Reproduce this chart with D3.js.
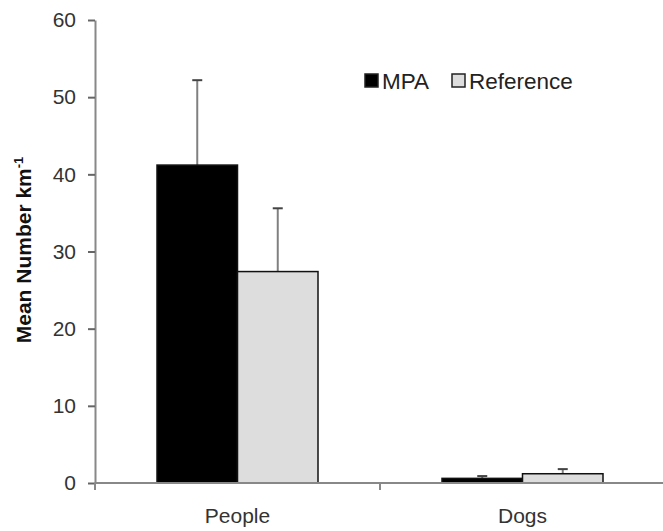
<!DOCTYPE html>
<html><head><meta charset="utf-8">
<script src="https://cdn.jsdelivr.net/npm/d3@7"></script>
<style>body{margin:0;background:#fff}</style>
</head><body>
<svg id="c" width="663" height="531"></svg>
<script>
const categories = ["People", "Dogs"];
const seriesNames = ["MPA", "Reference"];
const mpaValues = [41.2, 0.6];
const mpaErrors = [11.0, 0.3];
const refValues = [27.4, 1.2];
const refErrors = [8.2, 0.6];
const yTicks = [0, 10, 20, 30, 40, 50, 60];

const colors = {MPA: "#000", Reference: "#dddddd"};
const svg = d3.select("#c");
const fontFam = "'Liberation Sans', Arial, sans-serif";
const x0 = d3.scaleBand().domain(categories).range([95, 665]).paddingInner(0).paddingOuter(0);
const x1 = d3.scaleBand().domain(seriesNames).range([62, 285 - 62]);
const y = d3.scaleLinear().domain([0, 60]).range([483, 20]);

const data = categories.map((c, i) => ({
  cat: c,
  vals: [
    {s: "MPA", v: mpaValues[i], e: mpaErrors[i]},
    {s: "Reference", v: refValues[i], e: refErrors[i]}
  ]
}));

// error bars (behind bars)
const g = svg.append("g");
data.forEach(d => {
  d.vals.forEach(v => {
    const cx = x0(d.cat) + x1(v.s) + x1.bandwidth() / 2;
    g.append("line").attr("x1", cx).attr("x2", cx).attr("y1", y(v.v)).attr("y2", y(v.v + v.e))
      .attr("stroke", "#808080").attr("stroke-width", 2);
    g.append("line").attr("x1", cx - 5).attr("x2", cx + 5).attr("y1", y(v.v + v.e)).attr("y2", y(v.v + v.e))
      .attr("stroke", "#444").attr("stroke-width", 2);
  });
});
// bars
data.forEach(d => {
  d.vals.forEach(v => {
    g.append("rect")
      .attr("x", x0(d.cat) + x1(v.s))
      .attr("y", y(v.v))
      .attr("width", x1.bandwidth())
      .attr("height", y(0) - y(v.v))
      .attr("fill", colors[v.s])
      .attr("stroke", "#111").attr("stroke-width", 1.5);
  });
});

// y axis
const yAxis = d3.axisLeft(y).tickValues(yTicks).tickSize(7).tickPadding(12).tickSizeOuter(0);
const ya = svg.append("g").attr("transform", "translate(95,0)").call(yAxis);
ya.select(".domain").attr("stroke", "#888").attr("stroke-width", 2);
ya.selectAll(".tick line").attr("stroke", "#666").attr("stroke-width", 2);
ya.selectAll(".tick text").attr("font-family", fontFam).attr("font-size", 21).attr("fill", "#333");

// x axis
const xa = svg.append("g").attr("transform", "translate(0,483)");
xa.append("line").attr("x1", 95).attr("x2", 663).attr("y1", 0).attr("y2", 0).attr("stroke", "#888").attr("stroke-width", 2);
[95, x0("Dogs")].forEach(px => {
  xa.append("line").attr("x1", px).attr("x2", px).attr("y1", 0).attr("y2", 7).attr("stroke", "#888").attr("stroke-width", 2);
});
categories.forEach(c => {
  xa.append("text").attr("x", x0(c) + x0.bandwidth() / 2).attr("y", 40)
    .attr("text-anchor", "middle").attr("font-family", fontFam).attr("font-size", 21).attr("fill", "#333").text(c);
});

// y title
const yt = svg.append("text").attr("transform", "translate(31,250) rotate(-90)")
  .attr("text-anchor", "middle").attr("font-family", fontFam).attr("font-size", 21)
  .attr("font-weight", "bold").attr("fill", "#111");
yt.append("tspan").text("Mean Number km");
yt.append("tspan").attr("font-size", 13).attr("dy", -8).text("-1");

// legend
const leg = [{s: "MPA", x: 365}, {s: "Reference", x: 452}];
leg.forEach(l => {
  svg.append("rect").attr("x", l.x).attr("y", 74).attr("width", 13).attr("height", 13)
    .attr("fill", colors[l.s]).attr("stroke", "#222").attr("stroke-width", 1.5);
  svg.append("text").attr("x", l.x + 17).attr("y", 89).attr("font-family", fontFam)
    .attr("font-size", 22.5).attr("fill", "#222").text(l.s);
});
</script>
</body></html>
